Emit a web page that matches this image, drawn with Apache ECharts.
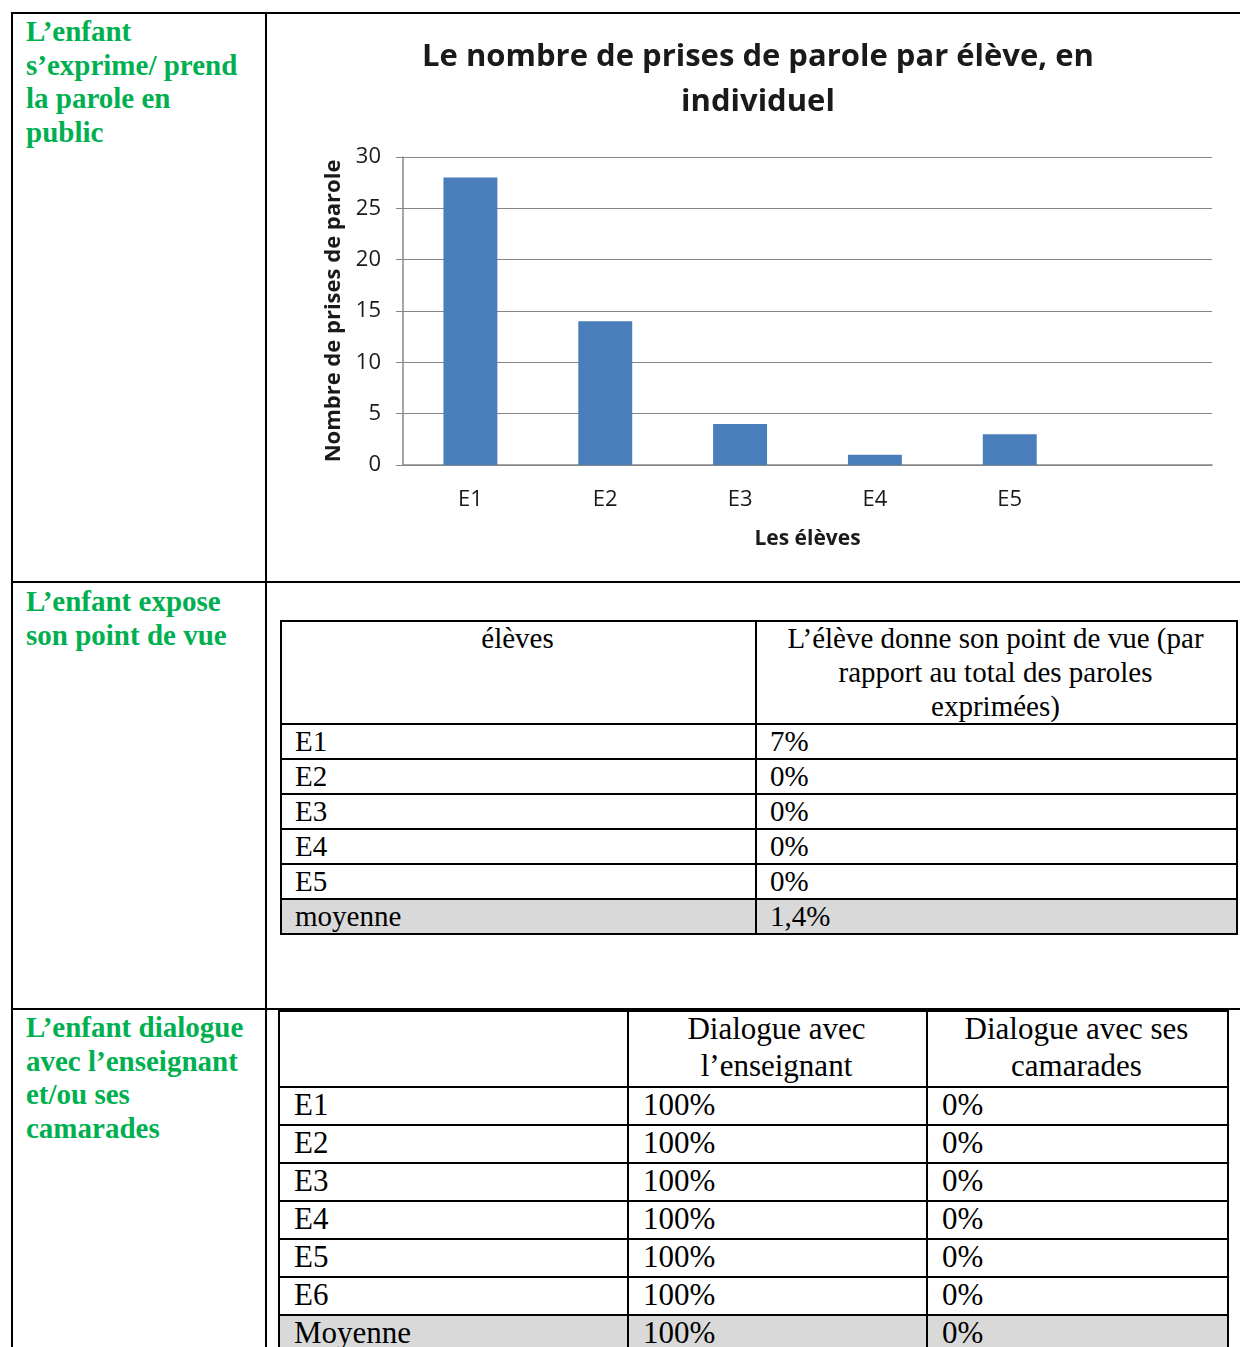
<!DOCTYPE html>
<html><head><meta charset="utf-8">
<script src="https://cdn.jsdelivr.net/npm/echarts@6/dist/echarts.min.js"></script>
<style>
html,body{margin:0;padding:0;background:#fff;width:1240px;height:1347px;overflow:hidden;position:relative}
.ln{position:absolute;background:#000}
.bg{position:absolute;background:#d9d9d9}
.lab{position:absolute;font-family:"Liberation Serif","Times New Roman",serif;font-weight:bold;font-size:29px;line-height:33.5px;color:#00b050;white-space:nowrap}
.tx{position:absolute;font-family:"Liberation Serif","Times New Roman",serif;color:#000;white-space:nowrap}
#chart{position:absolute;left:268px;top:15px;width:980px;height:566px}
</style>
</head><body>
<div id="chart"></div>
<script>
// ---------- data ----------
const categories = ['E1', 'E2', 'E3', 'E4', 'E5', ''];
const prisesDeParole = [28, 14, 4, 1, 3, null];
const chartTitle = 'Le nombre de prises de parole par élève, en\nindividuel';
const yAxisName = 'Nombre de prises de parole';
const xAxisName = 'Les élèves';

const labels = [
  'L’enfant<br>s’exprime/ prend<br>la parole en<br>public',
  'L’enfant expose<br>son point de vue',
  'L’enfant dialogue<br>avec l’enseignant<br>et/ou ses<br>camarades'
];

const t1Header = ['élèves', 'L’élève donne son point de vue (par<br>rapport au total des paroles<br>exprimées)'];
const t1Eleves = ['E1', 'E2', 'E3', 'E4', 'E5', 'moyenne'];
const t1PointDeVue = ['7%', '0%', '0%', '0%', '0%', '1,4%'];

const t2Header = ['', 'Dialogue avec<br>l’enseignant', 'Dialogue avec ses<br>camarades'];
const t2Eleves = ['E1', 'E2', 'E3', 'E4', 'E5', 'E6', 'Moyenne'];
const t2Enseignant = ['100%', '100%', '100%', '100%', '100%', '100%', '100%'];
const t2Camarades = ['0%', '0%', '0%', '0%', '0%', '0%', '0%'];

// ---------- helpers ----------
function el(cls, css, html) {
  const d = document.createElement('div');
  d.className = cls;
  Object.assign(d.style, css);
  if (html !== undefined) d.innerHTML = html;
  document.body.appendChild(d);
  return d;
}
function hline(x, y, w) { el('ln', {left: x + 'px', top: y + 'px', width: w + 'px', height: '2px'}); }
function vline(x, y, h) { el('ln', {left: x + 'px', top: y + 'px', width: '2px', height: h + 'px'}); }

// ---------- outer document table ----------
hline(11, 12, 1240);
vline(11, 12, 1340);
vline(265, 12, 1340);
hline(11, 581, 1240);
hline(11, 1008, 1240);

el('lab', {left: '26px', top: '15px'}, labels[0]);
el('lab', {left: '26px', top: '585px'}, labels[1]);
el('lab', {left: '26px', top: '1011px'}, labels[2]);

// ---------- table 1 ----------
(function () {
  const xs = [280, 755, 1236];
  const top = 620, headH = 103, rowH = 35;
  const fs = 29, lh = 34;
  const n = t1Eleves.length;
  const bottom = top + headH + n * rowH;
  el('bg', {left: xs[0] + 'px', top: (top + headH + (n - 1) * rowH) + 'px', width: (xs[2] - xs[0]) + 'px', height: rowH + 'px'});
  hline(xs[0], top, xs[2] - xs[0] + 2);
  for (let i = 0; i <= n; i++) hline(xs[0], top + headH + i * rowH, xs[2] - xs[0] + 2);
  xs.forEach(x => vline(x, top, bottom - top + 2));
  el('tx', {left: xs[0] + 'px', width: (xs[1] - xs[0]) + 'px', top: (top + 1) + 'px', textAlign: 'center', fontSize: fs + 'px', lineHeight: lh + 'px'}, t1Header[0]);
  el('tx', {left: xs[1] + 'px', width: (xs[2] - xs[1]) + 'px', top: (top + 1) + 'px', textAlign: 'center', fontSize: fs + 'px', lineHeight: lh + 'px'}, t1Header[1]);
  for (let i = 0; i < n; i++) {
    const y = top + headH + i * rowH + 1;
    el('tx', {left: (xs[0] + 15) + 'px', top: y + 'px', fontSize: fs + 'px', lineHeight: lh + 'px'}, t1Eleves[i]);
    el('tx', {left: (xs[1] + 15) + 'px', top: y + 'px', fontSize: fs + 'px', lineHeight: lh + 'px'}, t1PointDeVue[i]);
  }
})();

// ---------- table 2 ----------
(function () {
  const xs = [278, 627, 926, 1227];
  const top = 1010, headH = 76, rowH = 38;
  const fs = 31, lh = 37;
  const n = t2Eleves.length;
  const bottom = top + headH + n * rowH;
  el('bg', {left: xs[0] + 'px', top: (top + headH + (n - 1) * rowH) + 'px', width: (xs[3] - xs[0]) + 'px', height: rowH + 'px'});
  hline(xs[0], top, xs[3] - xs[0] + 2);
  for (let i = 0; i <= n; i++) hline(xs[0], top + headH + i * rowH, xs[3] - xs[0] + 2);
  xs.forEach(x => vline(x, top, bottom - top + 2));
  for (let c = 0; c < 3; c++) {
    el('tx', {left: xs[c] + 'px', width: (xs[c + 1] - xs[c]) + 'px', top: top + 'px', textAlign: 'center', fontSize: fs + 'px', lineHeight: lh + 'px'}, t2Header[c]);
  }
  const cols = [t2Eleves, t2Enseignant, t2Camarades];
  for (let i = 0; i < n; i++) {
    const y = top + headH + i * rowH;
    for (let c = 0; c < 3; c++) {
      el('tx', {left: (xs[c] + 16) + 'px', top: y + 'px', fontSize: fs + 'px', lineHeight: lh + 'px'}, cols[c][i]);
    }
  }
})();

// ---------- chart ----------
const chart = echarts.init(document.getElementById('chart'), null, {renderer: 'canvas'});
const font = '"Open Sans", Lato, sans-serif';
const axisGray = '#868686';
const ink = '#1a1a1a';
chart.setOption({
  animation: false,
  title: {
    text: chartTitle,
    left: 'center',
    top: 15,
    textStyle: {fontFamily: font, fontWeight: 'bold', fontSize: 31, lineHeight: 45, color: ink}
  },
  grid: {left: 135, top: 142, width: 809, height: 308},
  xAxis: {
    type: 'category',
    data: categories,
    axisTick: {show: false},
    axisLine: {lineStyle: {color: axisGray, width: 1.5}},
    axisLabel: {fontFamily: font, fontSize: 22, color: ink, margin: 24},
    name: xAxisName,
    nameLocation: 'middle',
    nameGap: 64,
    nameTextStyle: {fontFamily: font, fontWeight: 'bold', fontSize: 21, color: ink}
  },
  yAxis: {
    type: 'value',
    min: 0, max: 30, interval: 5,
    axisLine: {show: true, lineStyle: {color: axisGray, width: 1.5}},
    axisTick: {show: true, length: 7, lineStyle: {color: axisGray}},
    splitLine: {lineStyle: {color: axisGray, width: 1.2}},
    axisLabel: {fontFamily: font, fontSize: 22, color: ink, margin: 22},
    name: yAxisName,
    nameLocation: 'middle',
    nameRotate: 90,
    nameGap: 57,
    nameTextStyle: {fontFamily: font, fontWeight: 'bold', fontSize: 22, color: ink}
  },
  series: [{
    type: 'bar',
    data: prisesDeParole,
    barWidth: '40%',
    itemStyle: {color: '#4a7ebb'}
  }]
});
</script>
</body></html>
